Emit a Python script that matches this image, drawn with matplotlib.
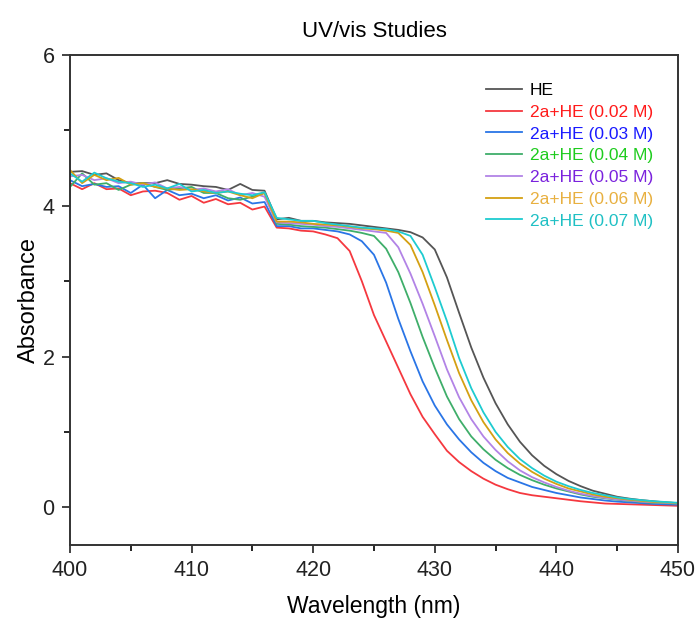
import matplotlib
matplotlib.use("Agg")
import matplotlib.pyplot as plt
from matplotlib.ticker import MultipleLocator

plt.rcParams['font.family'] = ['Liberation Sans', 'DejaVu Sans']

wavelength = list(range(400, 451))

he = [4.45, 4.46, 4.41, 4.43, 4.34, 4.30, 4.30, 4.30, 4.34, 4.29, 4.28, 4.26, 4.25, 4.21, 4.29, 4.21, 4.20,
      3.82, 3.84, 3.80, 3.80, 3.78, 3.77, 3.76, 3.74, 3.72, 3.70, 3.68, 3.65, 3.58, 3.42, 3.05, 2.58, 2.12,
      1.72, 1.38, 1.10, 0.87, 0.69, 0.55, 0.44, 0.35, 0.28, 0.22, 0.18, 0.14, 0.115, 0.095, 0.08, 0.065, 0.055]
c002 = [4.30, 4.22, 4.30, 4.22, 4.23, 4.14, 4.19, 4.20, 4.17, 4.08, 4.13, 4.04, 4.09, 4.02, 4.04, 3.95, 3.99,
        3.71, 3.70, 3.67, 3.66, 3.62, 3.57, 3.40, 3.00, 2.55, 2.20, 1.85, 1.50, 1.20, 0.97, 0.75, 0.60, 0.48,
        0.38, 0.30, 0.24, 0.19, 0.16, 0.14, 0.12, 0.10, 0.08, 0.065, 0.05, 0.045, 0.04, 0.035, 0.03, 0.025, 0.02]
c003 = [4.34, 4.26, 4.29, 4.25, 4.26, 4.17, 4.28, 4.10, 4.21, 4.14, 4.16, 4.10, 4.14, 4.07, 4.11, 4.03, 4.05,
        3.73, 3.73, 3.70, 3.70, 3.68, 3.66, 3.62, 3.53, 3.35, 2.98, 2.50, 2.07, 1.67, 1.35, 1.10, 0.90, 0.73,
        0.59, 0.48, 0.39, 0.33, 0.27, 0.23, 0.19, 0.16, 0.13, 0.11, 0.09, 0.075, 0.065, 0.055, 0.045, 0.04, 0.035]
c004 = [4.25, 4.43, 4.28, 4.30, 4.21, 4.28, 4.30, 4.25, 4.21, 4.23, 4.25, 4.17, 4.17, 4.10, 4.08, 4.12, 4.17,
        3.76, 3.75, 3.73, 3.72, 3.71, 3.69, 3.67, 3.64, 3.60, 3.43, 3.12, 2.71, 2.26, 1.85, 1.47, 1.17, 0.94,
        0.77, 0.63, 0.52, 0.43, 0.36, 0.30, 0.25, 0.21, 0.17, 0.14, 0.12, 0.10, 0.085, 0.07, 0.06, 0.055, 0.05]
c005 = [4.39, 4.41, 4.34, 4.365, 4.30, 4.32, 4.28, 4.31, 4.23, 4.25, 4.21, 4.23, 4.19, 4.22, 4.14, 4.17, 4.12,
        3.78, 3.77, 3.76, 3.75, 3.73, 3.72, 3.70, 3.68, 3.66, 3.64, 3.45, 3.10, 2.70, 2.27, 1.83, 1.46, 1.17,
        0.94, 0.76, 0.61, 0.49, 0.40, 0.33, 0.27, 0.22, 0.18, 0.15, 0.125, 0.105, 0.09, 0.075, 0.065, 0.06, 0.05]
c006 = [4.475, 4.30, 4.41, 4.34, 4.37, 4.28, 4.30, 4.25, 4.23, 4.21, 4.22, 4.19, 4.17, 4.19, 4.14, 4.10, 4.17,
        3.79, 3.79, 3.78, 3.76, 3.75, 3.74, 3.72, 3.70, 3.69, 3.67, 3.64, 3.48, 3.12, 2.68, 2.22, 1.78, 1.42,
        1.13, 0.90, 0.72, 0.58, 0.47, 0.38, 0.31, 0.25, 0.21, 0.17, 0.14, 0.12, 0.10, 0.085, 0.07, 0.065, 0.055]
c007 = [4.43, 4.32, 4.44, 4.365, 4.32, 4.30, 4.25, 4.28, 4.23, 4.29, 4.19, 4.21, 4.17, 4.19, 4.16, 4.14, 4.18,
        3.84, 3.82, 3.80, 3.80, 3.77, 3.75, 3.73, 3.71, 3.70, 3.69, 3.66, 3.60, 3.35, 2.92, 2.47, 1.98, 1.58,
        1.26, 1.00, 0.80, 0.64, 0.52, 0.42, 0.34, 0.28, 0.23, 0.19, 0.16, 0.13, 0.11, 0.095, 0.08, 0.07, 0.06]

labels = ["HE", "2a+HE (0.02 M)", "2a+HE (0.03 M)", "2a+HE (0.04 M)",
          "2a+HE (0.05 M)", "2a+HE (0.06 M)", "2a+HE (0.07 M)"]
series = [he, c002, c003, c004, c005, c006, c007]
line_colors = ["#555555", "#f5383f", "#2a75e6", "#3fae6a", "#b283e6", "#d4a012", "#1ecbd0"]
text_colors = ["#000000", "#ff1a1a", "#1a1aff", "#1ecc1e", "#7a22dd", "#e8b040", "#1fc0c4"]

fig = plt.figure(figsize=(6.97, 6.21), dpi=100)
ax = fig.add_axes([0.1004, 0.1224, 0.8723, 0.789])

for y, c, lab in zip(series, line_colors, labels):
    ax.plot(wavelength, y, color=c, lw=1.3, label=lab)

ax.set_xlim(400, 450)
ax.set_ylim(-0.5, 6)
ax.xaxis.set_major_locator(MultipleLocator(10))
ax.xaxis.set_minor_locator(MultipleLocator(5))
ax.yaxis.set_major_locator(MultipleLocator(2))
ax.yaxis.set_minor_locator(MultipleLocator(1))
ax.tick_params(which='major', direction='out', length=6, width=1.2, labelsize=15.5,
               colors='#222222', pad=5)
ax.tick_params(which='minor', direction='out', length=4, width=1.2)
for s in ax.spines.values():
    s.set_linewidth(1.4)
    s.set_color('#333333')

ax.set_xlabel("Wavelength (nm)", fontsize=16.5, labelpad=10)
ax.set_ylabel("Absorbance", fontsize=17, labelpad=2)
ax.set_title("UV/vis Studies", fontsize=16, pad=13)

leg = ax.legend(loc='upper right', frameon=False, fontsize=12.5, handlelength=2.1,
                handletextpad=0.45, labelspacing=0.38, bbox_to_anchor=(0.985, 0.975))
for t, c in zip(leg.get_texts(), text_colors):
    t.set_color(c)

fig.savefig("out.png", dpi=100)
